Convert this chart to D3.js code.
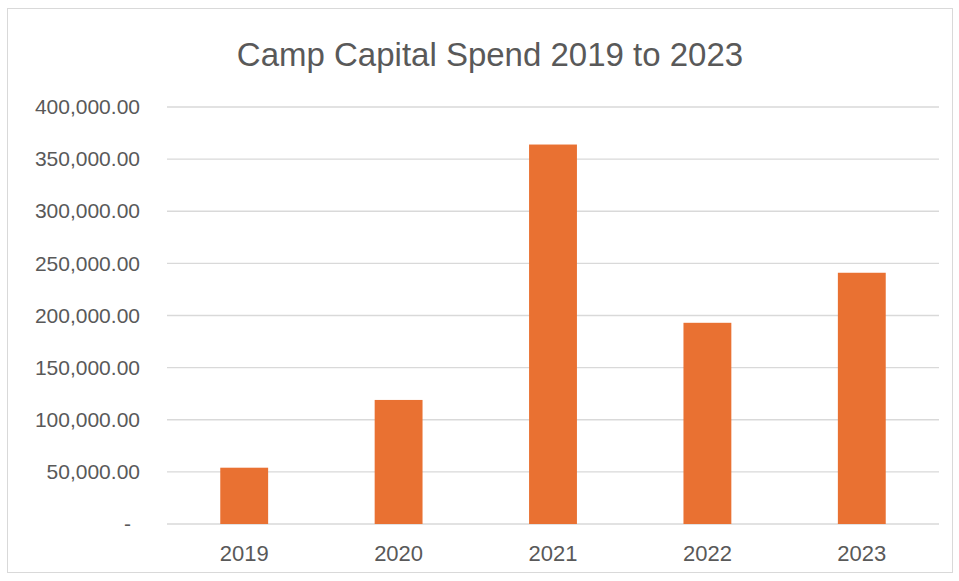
<!DOCTYPE html>
<html>
<head>
<meta charset="utf-8">
<script src="https://cdn.jsdelivr.net/npm/d3@7"></script>
<style>
  body { margin:0; background:#fff; }
  .axis text { fill:#595959; font-family:'Liberation Sans', Arial, sans-serif; }
</style>
</head>
<body>
<div id="canvas"></div>
<script>
// data
var years = ['2019','2020','2021','2022','2023'];
var spend = [54000, 119000, 364000, 193000, 241000];
var yTicks = [0, 50000, 100000, 150000, 200000, 250000, 300000, 350000, 400000];
var title = 'Camp Capital Spend 2019 to 2023';

var outerWidth = 959, outerHeight = 581;
var m = {t:107, r:20, b:57, l:167};
var w = 939 - m.l, h = 524 - m.t;

var svg = d3.select('#canvas').append('svg')
    .attr('width', outerWidth)
    .attr('height', outerHeight);

// chart frame
svg.append('rect')
    .attr('x', 7.5).attr('y', 8.5)
    .attr('width', 945).attr('height', 564)
    .attr('fill', '#fff')
    .attr('stroke', '#d9d9d9');

svg.append('text')
    .attr('x', 490).attr('y', 66)
    .attr('text-anchor', 'middle')
    .attr('fill', '#595959')
    .style('font-family', "'Liberation Sans', Arial, sans-serif")
    .style('font-size', '33px')
    .text(title);

var plot = svg.append('g')
    .attr('transform', 'translate(' + m.l + ',' + m.t + ')');

var scaleY = d3.scaleLinear().domain([0, 400000]).range([h, 0]);
var scaleX = d3.scaleBand().domain(years).range([0, w])
    .paddingInner(0.69).paddingOuter(0.345);

// gridlines
plot.selectAll('.grid')
    .data(yTicks)
    .enter().append('line')
    .attr('class', 'grid')
    .attr('x1', 0).attr('x2', w)
    .attr('y1', function(d){ return scaleY(d); })
    .attr('y2', function(d){ return scaleY(d); })
    .attr('stroke', '#d9d9d9')
    .attr('stroke-width', 1.3);

plot.selectAll('.bar')
    .data(years)
    .enter().append('rect')
    .attr('class', 'bar')
    .attr('x', function(d){ return scaleX(d); })
    .attr('y', function(d, i){ return scaleY(spend[i]); })
    .attr('width', scaleX.bandwidth())
    .attr('height', function(d, i){ return h - scaleY(spend[i]); })
    .attr('fill', '#e97132');

var fmt = d3.format(',.2f');
var axisY = d3.axisLeft(scaleY)
    .tickValues(yTicks)
    .tickSize(0)
    .tickPadding(27)
    .tickFormat(function(d){ return d === 0 ? '-' : fmt(d); });
var yNode = plot.append('g').attr('class', 'axis').call(axisY);
yNode.select('.domain').remove();
yNode.selectAll('text').style('font-size', '21px');
// the accounting dash sits a little left of the numbers
yNode.selectAll('.tick').filter(function(d){ return d === 0; })
    .select('text').attr('dx', -9);

var axisX = d3.axisBottom(scaleX).tickSize(0).tickPadding(21);
var xNode = plot.append('g').attr('class', 'axis')
    .attr('transform', 'translate(0,' + h + ')')
    .call(axisX);
xNode.select('.domain').remove();
xNode.selectAll('text').style('font-size', '22px');
</script>
</body>
</html>
